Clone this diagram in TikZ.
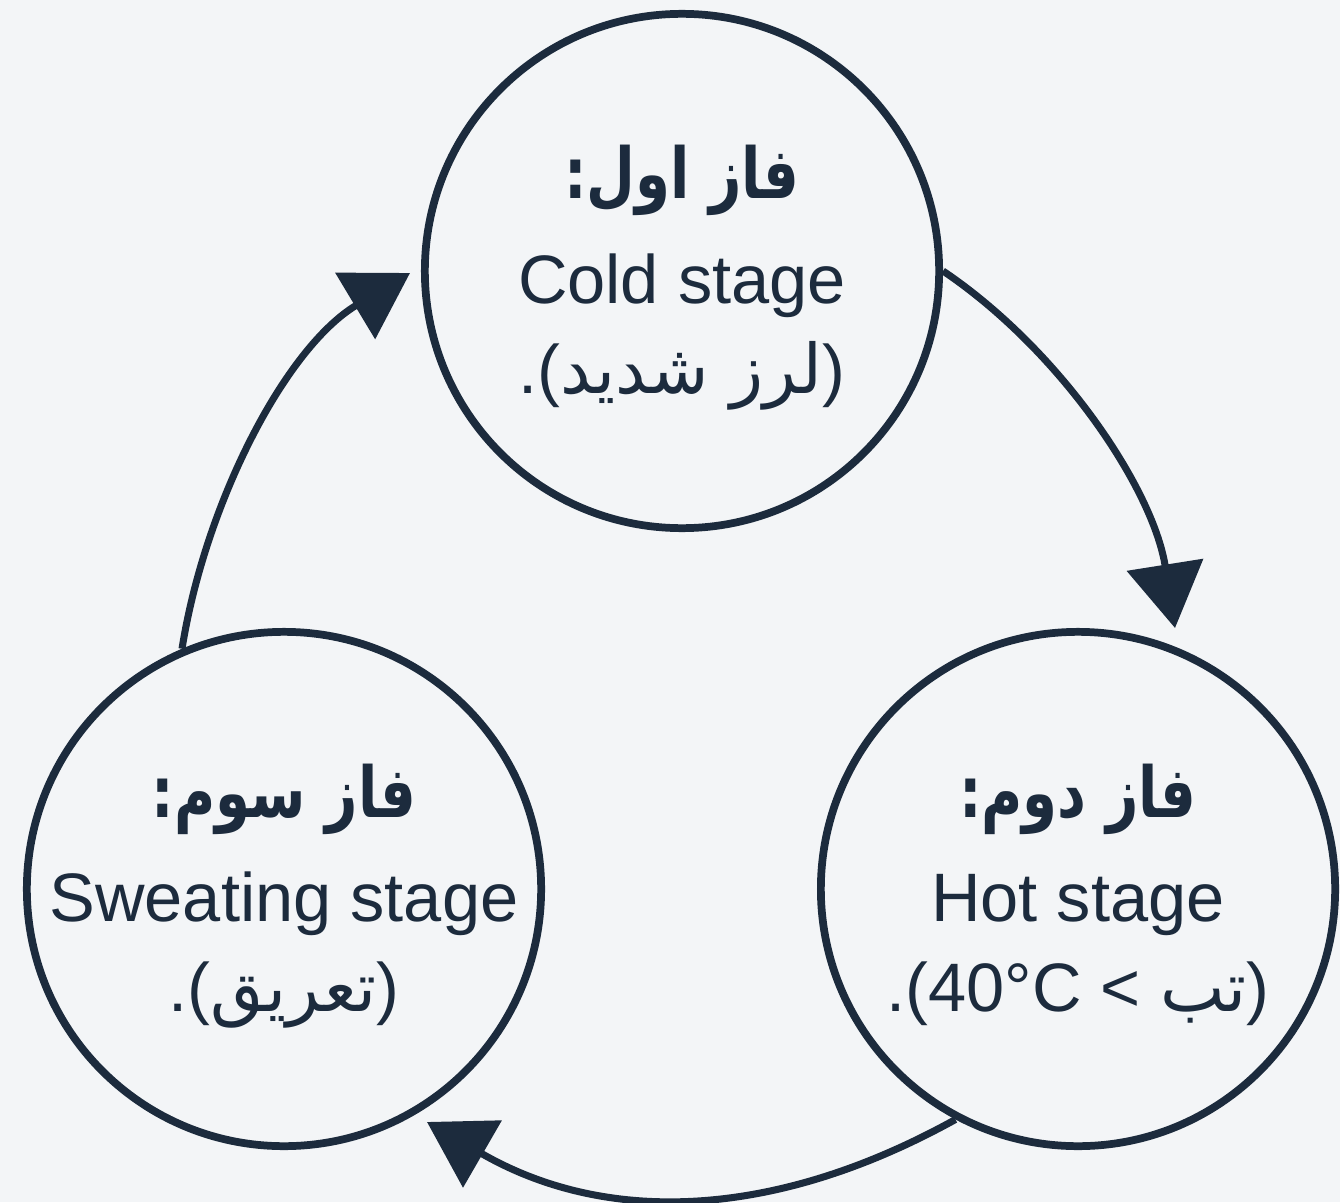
\documentclass[tikz,border=0pt]{standalone}
\usepackage{fontspec}
\setmainfont{Liberation Sans}
\newfontfamily\arabicfont[Script=Arabic]{DejaVu Sans}
\newfontfamily\arabichead[Script=Arabic,FakeStretch=0.8]{DejaVu Sans}
\TeXXeTstate=1
\usetikzlibrary{arrows.meta,calc}
\definecolor{ink}{HTML}{1C2B3D}
\definecolor{bg}{HTML}{F3F5F7}
\begin{document}
\begin{tikzpicture}[x=0.01cm,y=0.01cm,
  stage/.style={circle, draw=ink, line width=2.2pt, minimum size=5.14cm, inner sep=0pt},
  flow/.style={draw=ink, line width=2pt, -{Triangle[length=0.64cm,width=0.76cm]}},
  head/.style={anchor=base, text=ink, inner sep=0pt, font=\arabichead\bfseries\fontsize{20}{24}\selectfont},
  eng/.style={anchor=base, text=ink, inner sep=0pt, font=\fontsize{19.5}{23}\selectfont},
  ara/.style={anchor=base, text=ink, inner sep=0pt, font=\fontsize{19.5}{23}\selectfont}]
\fill[bg] (0,0) rectangle (1340,1202);
\useasboundingbox (0,0) rectangle (1340,1202);
% stages
\node[stage] (cold) at (682,931) {};
\node[stage] (hot) at (1078,313) {};
\node[stage] (sweat) at (284,313) {};
% texts
\node[head] (coldH) at ($(cold)+(0,72)$) {\beginR فاز اول:\endR};
\node[eng] (coldE) at ($(cold)+(0,-32)$) {Cold stage};
\node[ara] (coldA) at ($(cold)+(0,-122)$) {.({\arabicfont\beginR لرز شدید\endR})};
\node[head] (hotH) at ($(hot)+(0,72)$) {\beginR فاز دوم:\endR};
\node[eng] (hotE) at ($(hot)+(0,-32)$) {Hot stage};
\node[ara] (hotA) at ($(hot)+(0,-122)$) {.(40°C < {\arabicfont\beginR تب\endR})};
\node[head] (sweatH) at ($(sweat)+(0,72)$) {\beginR فاز سوم:\endR};
\node[eng] (sweatE) at ($(sweat)+(0,-32)$) {Sweating stage};
\node[ara] (sweatA) at ($(sweat)+(0,-122)$) {.({\arabicfont\beginR تعریق\endR})};
% arrow tips
\coordinate (t1) at (1175,574);
\coordinate (t2) at (427,80);
\coordinate (t3) at (410,929);
\draw[flow] (cold.0) to[out=-34,in=99,looseness=0.85] (t1);
\draw[flow] (hot.242) to[out=209,in=-30] (t2);
\draw[flow] (sweat.113) to[out=81,in=211,looseness=0.85] (t3);
\end{tikzpicture}
\end{document}
